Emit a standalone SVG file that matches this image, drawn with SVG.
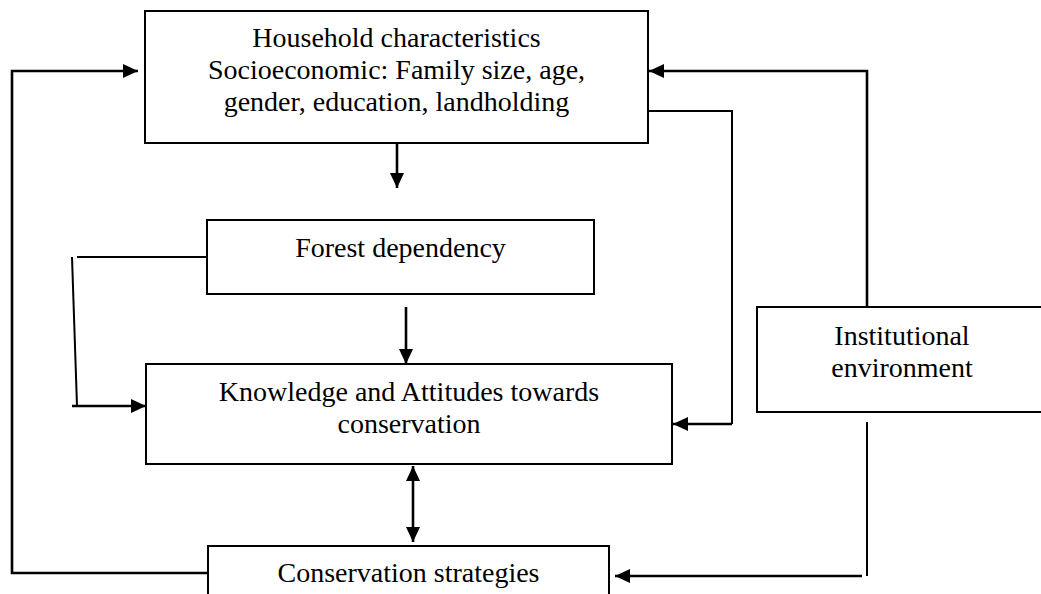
<svg xmlns="http://www.w3.org/2000/svg" width="1041" height="594" viewBox="0 0 1041 594">
  <style>
    .box { fill: #ffffff; stroke: #000000; stroke-width: 2; }
    .label { font-family: "Liberation Serif", "Times New Roman", serif; font-size: 28px; fill: #000000; text-anchor: middle; }
    .link { fill: none; stroke: #000000; stroke-width: 2; }
    .arrow { fill: none; stroke: #000000; stroke-width: 2.6; }
  </style>
  <defs>
    <marker id="head" markerUnits="userSpaceOnUse" markerWidth="16" markerHeight="16" refX="15" refY="7" orient="auto-start-reverse">
      <path d="M0,0 L15,7 L0,14 Z" fill="#000000"/>
    </marker>
  </defs>

  <rect x="0" y="0" width="1041" height="594" fill="#ffffff"/>

  <!-- connectors -->
  <g id="connectors">
    <!-- conservation strategies feed back to household characteristics -->
    <polyline class="arrow" points="208,573 12,573 12,71 138,71" marker-end="url(#head)"/>
    <!-- institutional environment to household characteristics -->
    <polyline class="arrow" points="867,307 867,71 649,71" marker-end="url(#head)"/>
    <!-- household characteristics to knowledge and attitudes -->
    <polyline class="link" points="648,111 732,111 732,424"/>
    <line class="arrow" x1="732" y1="424" x2="673" y2="424" marker-end="url(#head)"/>
    <!-- household characteristics to forest dependency -->
    <line class="arrow" x1="397" y1="131" x2="397" y2="188" marker-end="url(#head)"/>
    <!-- forest dependency to knowledge and attitudes -->
    <line class="arrow" x1="406" y1="307" x2="406" y2="364" marker-end="url(#head)"/>
    <line class="link" x1="207" y1="257" x2="77" y2="257"/>
    <line class="link" x1="72" y1="257" x2="77" y2="406"/>
    <line class="arrow" x1="72" y1="406" x2="146" y2="406" marker-end="url(#head)"/>
    <!-- knowledge and attitudes with conservation strategies -->
    <line class="arrow" x1="413" y1="466" x2="413" y2="542" marker-start="url(#head)" marker-end="url(#head)"/>
    <!-- institutional environment to conservation strategies -->
    <line class="link" x1="867" y1="422" x2="867" y2="576"/>
    <line class="arrow" x1="862" y1="576" x2="615" y2="576" marker-end="url(#head)"/>
  </g>

  <g id="household">
    <rect class="box" x="145" y="11" width="503" height="132"/>
    <text class="label" x="396.5" y="47">Household characteristics</text>
    <text class="label" x="396.5" y="79">Socioeconomic: Family size, age,</text>
    <text class="label" x="396.5" y="111">gender, education, landholding</text>
  </g>

  <g id="forest">
    <rect class="box" x="207" y="220" width="387" height="74"/>
    <text class="label" x="400.5" y="257">Forest dependency</text>
  </g>

  <g id="knowledge">
    <rect class="box" x="146" y="364" width="526" height="100"/>
    <text class="label" x="409" y="401">Knowledge and Attitudes towards</text>
    <text class="label" x="409" y="433">conservation</text>
  </g>

  <g id="institutional">
    <rect class="box" x="757" y="307" width="300" height="105"/>
    <text class="label" x="902" y="345">Institutional</text>
    <text class="label" x="902" y="377">environment</text>
  </g>

  <g id="strategies">
    <rect class="box" x="208" y="546" width="401" height="60"/>
    <text class="label" x="408.5" y="582">Conservation strategies</text>
  </g>
</svg>
